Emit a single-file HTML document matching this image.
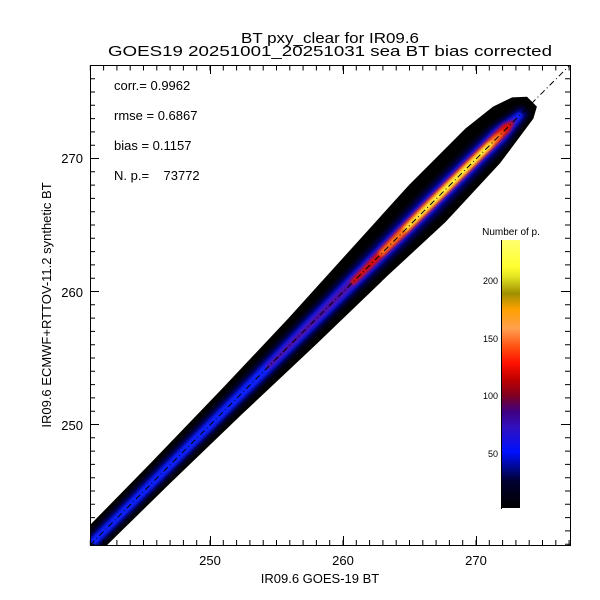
<!DOCTYPE html>
<html><head><meta charset="utf-8"><style>
html,body{margin:0;padding:0;background:#fff;}
svg{display:block;font-family:"Liberation Sans",sans-serif;}
</style></head><body>
<svg width="600" height="600" viewBox="0 0 600 600" xmlns="http://www.w3.org/2000/svg">
<defs>
<clipPath id="pc"><rect x="90" y="65" width="480" height="480"/></clipPath>
<filter id="b2" x="-20%" y="-50%" width="140%" height="200%"><feGaussianBlur stdDeviation="3"/></filter>
<filter id="b1" x="-20%" y="-50%" width="140%" height="200%"><feGaussianBlur stdDeviation="1.5"/></filter>
<linearGradient id="cb" x1="0" y1="1" x2="0" y2="0">
<stop offset="0" stop-color="#000000"/>
<stop offset="0.1" stop-color="#000030"/>
<stop offset="0.21" stop-color="#0010ff"/>
<stop offset="0.3" stop-color="#3010c0"/>
<stop offset="0.36" stop-color="#400080"/>
<stop offset="0.42" stop-color="#800020"/>
<stop offset="0.48" stop-color="#c00000"/>
<stop offset="0.54" stop-color="#ff1000"/>
<stop offset="0.6" stop-color="#ff5010"/>
<stop offset="0.67" stop-color="#ffa050"/>
<stop offset="0.74" stop-color="#ffa000"/>
<stop offset="0.8" stop-color="#a09000"/>
<stop offset="0.86" stop-color="#e0e020"/>
<stop offset="0.9" stop-color="#ffff30"/>
<stop offset="1" stop-color="#ffff70"/>
</linearGradient>
</defs>

<g clip-path="url(#pc)">
<g transform="translate(90,545) rotate(-45)">
<path d="M-10,-13 L0,-14 L100,-15 L200,-17 L300,-20 L400,-25 L480,-29 L560,-29 L595,-25 L615,-18 L626,-8 L626,6 L615,12 L560,20 L480,23 L400,20 L300,18 L200,15 L100,13 L0,12 L-10,12 Z" fill="#000"/>
<path d="M0,-7 L200,-8 L350,-10 L480,-13 L580,-12 L615,-5 L615,5 L580,11 L480,12 L350,9 L200,7 L0,6 Z" fill="#000080" filter="url(#b2)"/>
<path d="M0,-4 L200,-4.5 L350,-6 L480,-8 L580,-8 L610,-3 L610,3 L580,7 L480,7 L350,5.5 L200,4.5 L0,4 Z" fill="#1020ff" filter="url(#b1)"/>
<path d="M250,-2.5 L350,-4 L450,-6 L590,-6 L605,0 L590,5 L450,5 L350,3.5 L250,2.5 Z" fill="#5010a0" filter="url(#b1)"/>
<path d="M370,-2.5 L450,-5 L590,-5 L600,0 L590,4 L450,4 L370,2.5 Z" fill="#e01000" filter="url(#b1)"/>
<path d="M410,-2.5 L470,-4 L575,-3.5 L588,0 L575,3 L470,3 L410,2 Z" fill="#ff8020" filter="url(#b1)"/>
<path d="M445,-2 L500,-3 L565,-2.5 L572,0 L565,2 L500,2.5 L445,1.5 Z" fill="#ffff40" filter="url(#b1)"/>
</g>
<line x1="90" y1="545" x2="570" y2="65" stroke="#000" stroke-width="1" stroke-dasharray="6,3,1,3"/>
</g>

<rect x="90.5" y="65.5" width="480" height="480" fill="none" stroke="#000" stroke-width="1"/>
<!-- minor ticks via dash -->
<g stroke="#000" stroke-dasharray="1 12.3" fill="none">
<line x1="89.8" y1="542.5" x2="570" y2="542.5" stroke-width="5"/>
<line x1="89.8" y1="68" x2="570" y2="68" stroke-width="5"/>
<line x1="92.5" y1="544.7" x2="92.5" y2="65" stroke-width="5" stroke-dashoffset="0"/>
<line x1="567.5" y1="544.7" x2="567.5" y2="65" stroke-width="5"/>
</g>
<g stroke="#000" stroke-width="1">
<line x1="210.5" y1="545" x2="210.5" y2="536"/><line x1="343.5" y1="545" x2="343.5" y2="536"/><line x1="476.5" y1="545" x2="476.5" y2="536"/>
<line x1="210.5" y1="65" x2="210.5" y2="74"/><line x1="343.5" y1="65" x2="343.5" y2="74"/><line x1="476.5" y1="65" x2="476.5" y2="74"/>
<line x1="90" y1="158.5" x2="99" y2="158.5"/><line x1="90" y1="291.5" x2="99" y2="291.5"/><line x1="90" y1="424.5" x2="99" y2="424.5"/>
<line x1="570" y1="158.5" x2="561" y2="158.5"/><line x1="570" y1="291.5" x2="561" y2="291.5"/><line x1="570" y1="424.5" x2="561" y2="424.5"/>
</g>

<g font-size="13" fill="#000">
<text x="210" y="565" text-anchor="middle">250</text>
<text x="343" y="565" text-anchor="middle">260</text>
<text x="476" y="565" text-anchor="middle">270</text>
<text x="83" y="163" text-anchor="end">270</text>
<text x="83" y="297" text-anchor="end">260</text>
<text x="83" y="430" text-anchor="end">250</text>
</g>
<text x="320" y="583" font-size="13" text-anchor="middle">IR09.6 GOES-19 BT</text>
<text transform="translate(51,305) rotate(-90)" font-size="13" text-anchor="middle">IR09.6 ECMWF+RTTOV-11.2 synthetic BT</text>

<text x="330" y="43" font-size="15" text-anchor="middle" textLength="178" lengthAdjust="spacingAndGlyphs">BT pxy_clear for IR09.6</text>
<text x="330" y="56" font-size="15" text-anchor="middle" textLength="444" lengthAdjust="spacingAndGlyphs">GOES19 20251001_20251031 sea BT bias corrected</text>

<g font-size="13">
<text x="114" y="90">corr.= 0.9962</text>
<text x="114" y="120">rmse = 0.6867</text>
<text x="114" y="150">bias = 0.1157</text>
<text x="114" y="180">N. p.=&#160;&#160;&#160;&#160;73772</text>
</g>

<rect x="502" y="240" width="18" height="268" fill="url(#cb)"/>
<line x1="501.5" y1="240" x2="501.5" y2="509" stroke="#000"/>
<text x="511" y="235" font-size="10" text-anchor="middle">Number of p.</text>
<g font-size="9" text-anchor="end">
<text x="498" y="284">200</text>
<text x="498" y="342">150</text>
<text x="498" y="399">100</text>
<text x="498" y="457">50</text>
</g>
</svg>
</body></html>
